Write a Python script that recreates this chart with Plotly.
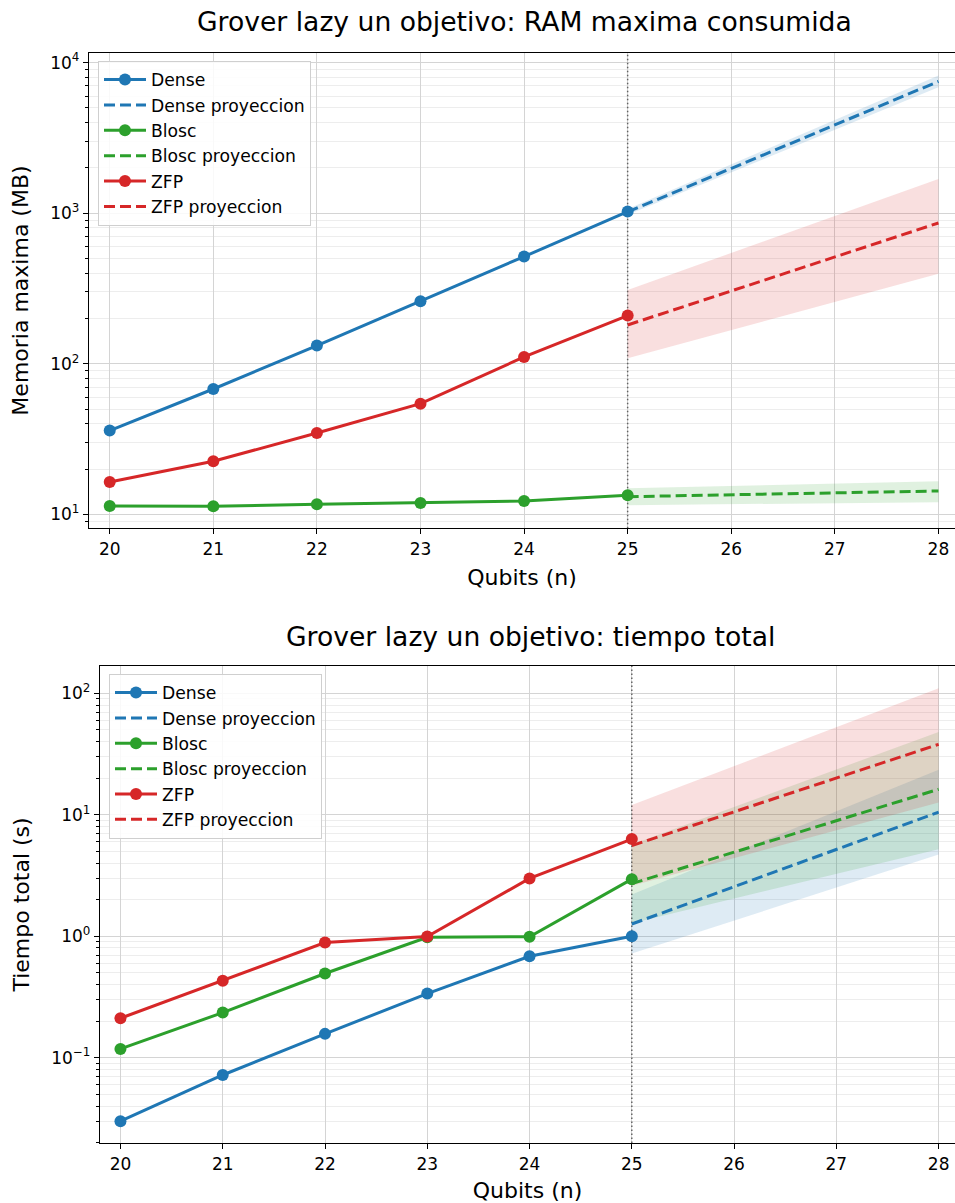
import math
import plotly.graph_objects as go

# ---------------- data ----------------
qubits = [20, 21, 22, 23, 24, 25]
proj_qubits = [25, 28]
proj_start = 25

# RAM (MB)
mem_dense = [36, 68, 132, 260, 515, 1025]
mem_blosc = [11.35, 11.3, 11.65, 11.9, 12.25, 13.4]
mem_zfp = [16.4, 22.5, 34.7, 54.3, 111, 209]

mem_dense_proj = [1020, 7500]
mem_dense_lo = [975, 6850]
mem_dense_hi = [1068, 8220]
mem_blosc_proj = [13.1, 14.3]
mem_blosc_lo = [11.5, 12.05]
mem_blosc_hi = [14.9, 16.6]
mem_zfp_proj = [181, 861]
mem_zfp_lo = [109, 396]
mem_zfp_hi = [309, 1690]

# Time (s)
t_dense = [0.030, 0.072, 0.157, 0.337, 0.684, 1.0]
t_blosc = [0.118, 0.235, 0.493, 0.98, 0.99, 2.95]
t_zfp = [0.211, 0.43, 0.887, 0.995, 2.99, 6.3]

t_dense_proj = [1.26, 10.5]
t_dense_lo = [0.72, 4.7]
t_dense_hi = [2.2, 23.5]
t_blosc_proj = [2.71, 16.2]
t_blosc_lo = [1.28, 5.2]
t_blosc_hi = [5.7, 48]
t_zfp_proj = [5.57, 38]
t_zfp_lo = [2.6, 12.6]
t_zfp_hi = [12.0, 110]

mem_tickvals = [10, 100, 1000, 10000]
mem_ticktext = ["10<sup>1</sup>", "10<sup>2</sup>", "10<sup>3</sup>", "10<sup>4</sup>"]
t_tickvals = [0.1, 1, 10, 100]
t_ticktext = ["10<sup>\u22121</sup>", "10<sup>0</sup>", "10<sup>1</sup>", "10<sup>2</sup>"]
x_ticks = [20, 21, 22, 23, 24, 25, 26, 27, 28]

# ---------------- style ----------------
W, H = 955, 1203
FONT = "DejaVu Sans"
BLUE, GREEN, RED = "#1f77b4", "#2ca02c", "#d62728"
FILLS = {BLUE: "rgba(31,119,180,0.15)", GREEN: "rgba(44,160,44,0.15)", RED: "rgba(214,39,40,0.15)"}
DASH = "11px,5px"
LW = 3
MS = 12

X_RANGE = [19.8, 28.16]
MEM_RANGE = [8.1, 11600]
T_RANGE = [0.0198, 168]


def minor_vals(lo, hi):
    out = []
    for e in range(math.floor(math.log10(lo)), math.ceil(math.log10(hi)) + 1):
        for m in range(2, 10):
            v = m * 10 ** e
            if lo <= v <= hi:
                out.append(v)
    return out


fig = go.Figure()


def add_panel(xa, ya, legend, yrange, series):
    # vertical dotted line marking start of projection
    fig.add_trace(go.Scatter(x=[proj_start, proj_start], y=yrange, mode="lines",
                             line=dict(color="rgba(60,60,60,0.75)", width=1.5, dash="1.5px,2.5px"),
                             showlegend=False, hoverinfo="skip", xaxis=xa, yaxis=ya))
    # uncertainty bands
    for name, color, meas, proj, lo, hi in series:
        fig.add_trace(go.Scatter(x=proj_qubits, y=lo, mode="lines", line=dict(width=0, color=color),
                                 showlegend=False, hoverinfo="skip", xaxis=xa, yaxis=ya))
        fig.add_trace(go.Scatter(x=proj_qubits, y=hi, mode="lines", line=dict(width=0, color=color),
                                 fill="tonexty", fillcolor=FILLS[color],
                                 showlegend=False, hoverinfo="skip", xaxis=xa, yaxis=ya))
    for name, color, meas, proj, lo, hi in series:
        fig.add_trace(go.Scatter(x=qubits, y=meas, mode="lines+markers", name=name,
                                 line=dict(color=color, width=LW), marker=dict(size=MS, color=color),
                                 legend=legend, xaxis=xa, yaxis=ya))
        fig.add_trace(go.Scatter(x=proj_qubits, y=proj, mode="lines", name=name + " proyeccion",
                                 line=dict(color=color, width=LW, dash=DASH),
                                 legend=legend, xaxis=xa, yaxis=ya))


add_panel("x", "y", "legend", MEM_RANGE, [
    ("Dense", BLUE, mem_dense, mem_dense_proj, mem_dense_lo, mem_dense_hi),
    ("Blosc", GREEN, mem_blosc, mem_blosc_proj, mem_blosc_lo, mem_blosc_hi),
    ("ZFP", RED, mem_zfp, mem_zfp_proj, mem_zfp_lo, mem_zfp_hi),
])
add_panel("x2", "y2", "legend2", T_RANGE, [
    ("Dense", BLUE, t_dense, t_dense_proj, t_dense_lo, t_dense_hi),
    ("Blosc", GREEN, t_blosc, t_blosc_proj, t_blosc_lo, t_blosc_hi),
    ("ZFP", RED, t_zfp, t_zfp_proj, t_zfp_lo, t_zfp_hi),
])

GRID = "#d4d4d4"
MINOR_GRID = "#ededed"


def xaxis_cfg(domain, anchor):
    return dict(domain=domain, anchor=anchor, range=X_RANGE, tickmode="array", tickvals=x_ticks,
                showgrid=True, gridcolor=GRID, gridwidth=1, zeroline=False,
                showline=True, linecolor="black", linewidth=1.3, mirror=True,
                ticks="outside", ticklen=5, tickwidth=1.2, tickcolor="black",
                tickfont=dict(family=FONT, size=17, color="black"),
                title=dict(text="Qubits (n)", font=dict(family=FONT, size=22, color="black"), standoff=11))


def yaxis_cfg(domain, anchor, rng, tv, tt, title):
    return dict(domain=domain, anchor=anchor, type="log", range=[math.log10(rng[0]), math.log10(rng[1])],
                tickmode="array", tickvals=tv, ticktext=tt,
                showgrid=True, gridcolor=GRID, gridwidth=1, zeroline=False,
                showline=True, linecolor="black", linewidth=1.3, mirror=False,
                ticks="outside", ticklen=5, tickwidth=1.2, tickcolor="black",
                tickfont=dict(family=FONT, size=17, color="black"),
                minor=dict(tickmode="array", tickvals=minor_vals(rng[0], rng[1]), ticks="outside",
                           ticklen=3, tickwidth=1, tickcolor="black", showgrid=True,
                           gridcolor=MINOR_GRID, gridwidth=1),
                title=dict(text=title, font=dict(family=FONT, size=22, color="black"), standoff=15))


legend_common = dict(xanchor="left", yanchor="top", bgcolor="rgba(255,255,255,0.85)",
                     bordercolor="#cfcfcf", borderwidth=1, font=dict(family=FONT, size=17.2, color="black"),
                     tracegroupgap=0, traceorder="normal", itemwidth=42)

fig.update_layout(
    width=W, height=H, margin=dict(l=0, r=0, t=0, b=0),
    paper_bgcolor="white", plot_bgcolor="white",
    font=dict(family=FONT, color="black"),
    xaxis=xaxis_cfg([89 / W, 1.0], "y"),
    yaxis=yaxis_cfg([(H - 527) / H, (H - 51) / H], "x", MEM_RANGE, mem_tickvals, mem_ticktext,
                    "Memoria maxima (MB)"),
    xaxis2=xaxis_cfg([100 / W, 1.0], "y2"),
    yaxis2=yaxis_cfg([(H - 1143) / H, (H - 665) / H], "x2", T_RANGE, t_tickvals, t_ticktext,
                     "Tiempo total (s)"),
    legend=dict(x=98 / W, y=1 - 59 / H, **legend_common),
    legend2=dict(x=109 / W, y=1 - 673 / H, **legend_common),
    annotations=[
        dict(text="Grover lazy un objetivo: RAM maxima consumida", x=524 / W, y=1 - 20 / H,
             xref="paper", yref="paper", xanchor="center", yanchor="middle", showarrow=False,
             font=dict(family=FONT, size=26.6, color="black")),
        dict(text="Grover lazy un objetivo: tiempo total", x=530 / W, y=1 - 636 / H,
             xref="paper", yref="paper", xanchor="center", yanchor="middle", showarrow=False,
             font=dict(family=FONT, size=26.6, color="black")),
    ],
    showlegend=True,
)

fig.write_html("out.html", config={"displayModeBar": False},
               post_script="document.body.style.margin='0';document.body.style.overflow='hidden';")
